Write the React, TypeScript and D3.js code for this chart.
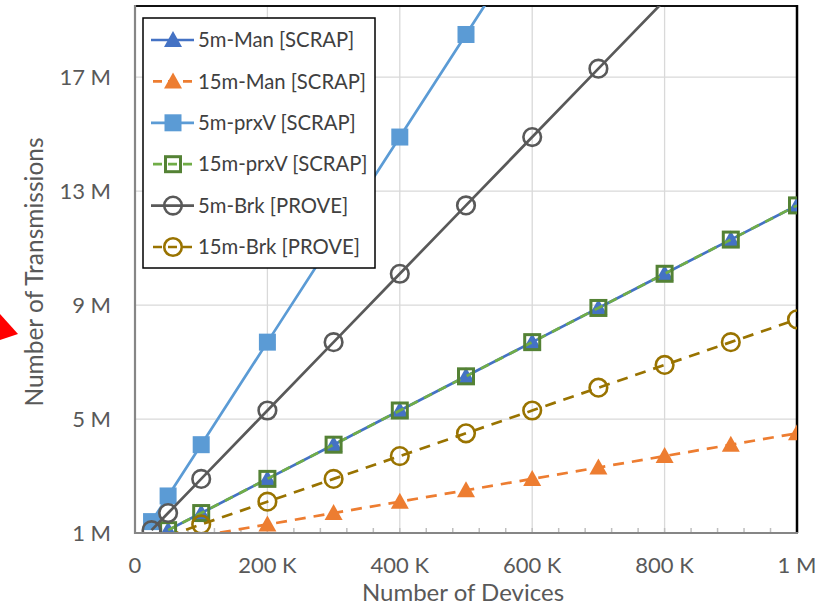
import React from 'react';
import * as d3 from 'd3';

// devices in thousands
const devices = [25, 50, 100, 200, 300, 400, 500, 600, 700, 800, 900, 1000];

// transmissions in millions (null = no point)
const man5 = [null, 1.1, 1.7, 2.9, 4.1, 5.3, 6.5, 7.7, 8.9, 10.1, 11.3, 12.5];
const man15 = [null, null, 0.9, 1.3, 1.7, 2.1, 2.5, 2.9, 3.3, 3.7, 4.1, 4.5];
const prxV5 = [1.4, 2.3, 4.1, 7.7, 11.3, 14.9, 18.5, 22.1, null, null, null, null];
const prxV15 = [null, 1.1, 1.7, 2.9, 4.1, 5.3, 6.5, 7.7, 8.9, 10.1, 11.3, 12.5];
const brk5 = [1.1, 1.7, 2.9, 5.3, 7.7, 10.1, 12.5, 14.9, 17.3, 19.7, null, null];
const brk15 = [null, 0.9, 1.3, 2.1, 2.9, 3.7, 4.5, 5.3, 6.1, 6.9, 7.7, 8.5];

const xTicks = [0, 200, 400, 600, 800, 1000];
const xTickLabels = ['0', '200 K', '400 K', '600 K', '800 K', '1 M'];
const yTicks = [1, 5, 9, 13, 17];
const yTickLabels = ['1 M', '5 M', '9 M', '13 M', '17 M'];

type Series = {
  name: string;
  values: (number | null)[];
  color: string;
  markerColor: string;
  marker: 'triangle' | 'square' | 'circle';
  filled: boolean;
  dash: string | null;
};

const series: Series[] = [
  { name: '5m-Man [SCRAP]', values: man5, color: '#4472C4', markerColor: '#4472C4', marker: 'triangle', filled: true, dash: null },
  { name: '15m-Man [SCRAP]', values: man15, color: '#ED7D31', markerColor: '#ED7D31', marker: 'triangle', filled: true, dash: '11,8' },
  { name: '5m-prxV [SCRAP]', values: prxV5, color: '#5B9BD5', markerColor: '#5B9BD5', marker: 'square', filled: true, dash: null },
  { name: '15m-prxV [SCRAP]', values: prxV15, color: '#70AD47', markerColor: '#548235', marker: 'square', filled: false, dash: '9,7' },
  { name: '5m-Brk [PROVE]', values: brk5, color: '#595959', markerColor: '#595959', marker: 'circle', filled: false, dash: null },
  { name: '15m-Brk [PROVE]', values: brk15, color: '#997300', markerColor: '#997300', marker: 'circle', filled: false, dash: '11,8' },
];

const W = 815;
const H = 607;
const plot = { left: 135, right: 797, top: 6, bottom: 533 };
const FONT = 'Lato, "Open Sans", sans-serif';

const Marker = ({ s, x, y }: { s: Series; x: number; y: number }) => {
  if (s.marker === 'triangle') {
    return <path d={`M${x},${y - 9}L${x + 9},${y + 7}L${x - 9},${y + 7}Z`} fill={s.markerColor} />;
  }
  if (s.marker === 'square') {
    return s.filled ? (
      <rect x={x - 8.5} y={y - 8.5} width={17} height={17} fill={s.markerColor} />
    ) : (
      <rect x={x - 7.5} y={y - 7.5} width={15} height={15} fill="none" stroke={s.markerColor} strokeWidth={3} />
    );
  }
  return <circle cx={x} cy={y} r={8.8} fill="none" stroke={s.markerColor} strokeWidth={2.6} />;
};

export default function App() {
  const x = d3.scaleLinear().domain([0, 1000]).range([plot.left, plot.right]);
  const y = d3.scaleLinear().domain([1, 19.5]).range([plot.bottom, plot.top]);

  const line = d3
    .line<number | null>()
    .defined((d) => d !== null)
    .x((_, i) => x(devices[i]))
    .y((d) => y(d as number));

  const minorTicks = d3.range(40, 1000, 40);

  return (
    <svg width={W} height={H} style={{ position: 'absolute', left: 0, top: 0, background: '#fff' }}>
      <defs>
        <clipPath id="plotClip">
          <rect x={plot.left} y={plot.top} width={plot.right - plot.left} height={plot.bottom - plot.top} />
        </clipPath>
      </defs>
      <rect width={W} height={H} fill="#fff" />

      {/* gridlines */}
      {yTicks.slice(1).map((t) => (
        <line key={'gy' + t} x1={plot.left} x2={plot.right} y1={y(t)} y2={y(t)} stroke="#d9d9d9" strokeWidth={1.3} />
      ))}
      {xTicks.slice(1, -1).map((t) => (
        <line key={'gx' + t} x1={x(t)} x2={x(t)} y1={plot.top} y2={plot.bottom} stroke="#d9d9d9" strokeWidth={1.3} />
      ))}

      {/* frame */}
      <line x1={plot.left} x2={plot.right} y1={plot.top} y2={plot.top} stroke="#111" strokeWidth={2} />
      <line x1={plot.right} x2={plot.right} y1={plot.top - 1} y2={plot.bottom} stroke="#000" strokeWidth={2.5} />

      {/* minor ticks */}
      {minorTicks.map((t) => (
        <line key={'mt' + t} x1={x(t)} x2={x(t)} y1={plot.bottom - 5} y2={plot.bottom} stroke="#bfbfbf" strokeWidth={1.5} />
      ))}

      {/* series */}
      <g clipPath="url(#plotClip)">
        {series.map((s) => (
          <g key={s.name}>
            <path
              d={line(s.values) || ''}
              fill="none"
              stroke={s.color}
              strokeWidth={2.7}
              strokeDasharray={s.dash || undefined}
            />
            {s.values.map((v, i) =>
              v !== null && v >= 1 && v <= 19.5 ? <Marker key={i} s={s} x={x(devices[i])} y={y(v)} /> : null
            )}
          </g>
        ))}
      </g>

      {/* axes */}
      <line x1={plot.left} x2={plot.left} y1={plot.top - 1} y2={plot.bottom + 1} stroke="#868686" strokeWidth={2.2} />
      <line x1={plot.left} x2={plot.right + 1} y1={plot.bottom} y2={plot.bottom} stroke="#868686" strokeWidth={2.2} />

      {/* tick labels */}
      {yTicks.map((t, i) => (
        <text key={'yl' + t} x={111} y={y(t)} dy="0.35em" textAnchor="end" fontFamily={FONT} fontSize={22} fill="#595959">
          {yTickLabels[i]}
        </text>
      ))}
      {xTicks.map((t, i) => (
        <text key={'xl' + t} x={x(t)} y={573} textAnchor="middle" fontFamily={FONT} fontSize={22} fill="#595959">
          {xTickLabels[i]}
        </text>
      ))}

      {/* axis titles */}
      <text x={463} y={601} textAnchor="middle" fontFamily={FONT} fontSize={24} fill="#595959">
        Number of Devices
      </text>
      <text
        transform="translate(43,272) rotate(-90)"
        textAnchor="middle"
        fontFamily={FONT}
        fontSize={24.5}
        fill="#595959"
      >
        Number of Transmissions
      </text>

      {/* legend */}
      <g>
        <rect x={143} y={18} width={232} height={250} fill="#fff" stroke="#000" strokeWidth={1.5} />
        {series.map((s, i) => {
          const ly = 40 + i * 41.4;
          return (
            <g key={'lg' + s.name}>
              <line x1={151} x2={194} y1={ly} y2={ly} stroke={s.color} strokeWidth={2.7} strokeDasharray={s.dash ? '9,6' : undefined} strokeDashoffset={s.dash ? -2 : 0} />
              <Marker s={s} x={173} y={ly} />
              <text x={198} y={ly} dy="0.35em" fontFamily={FONT} fontSize={20.3} fill="#404040">
                {s.name}
              </text>
            </g>
          );
        })}
      </g>

      {/* red pointer at left edge */}
      <path d="M0,314L18,334L0,340Z" fill="#FF0000" />
    </svg>
  );
}
